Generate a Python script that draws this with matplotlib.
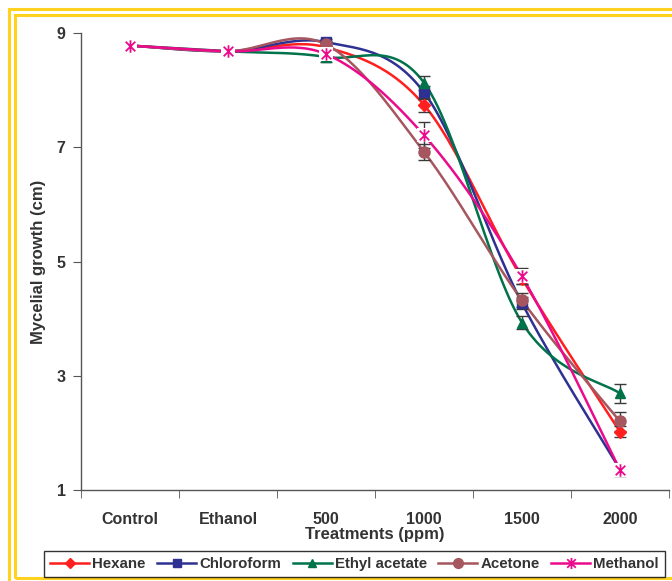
import numpy as np
import matplotlib.pyplot as plt
from matplotlib.path import Path
from matplotlib.patches import Rectangle
from matplotlib.lines import Line2D

plt.rcParams['font.family'] = ['Liberation Sans', 'DejaVu Sans']
plt.rcParams['font.weight'] = 'bold'

# datos
tratamientos = ["Control", "Ethanol", "500", "1000", "1500", "2000"]
hexane = [8.78, 8.68, 8.75, 7.74, 4.70, 2.02]
chloroform = [8.78, 8.68, 8.84, 7.96, 4.27, 1.36]
ethyl_acetate = [8.78, 8.68, 8.58, 8.13, 3.93, 2.69]
acetone = [8.78, 8.68, 8.80, 6.92, 4.32, 2.20]
methanol = [8.78, 8.68, 8.63, 7.21, 4.74, 1.35]

err_hexane = [0, 0, 0.08, 0.12, 0.10, 0.10]
err_chloroform = [0, 0, 0.06, 0.12, 0.10, 0.08]
err_ethyl = [0, 0, 0.09, 0.12, 0.12, 0.17]
err_acetone = [0, 0, 0.06, 0.14, 0.12, 0.16]
err_methanol = [0, 0, 0.08, 0.23, 0.14, 0.10]

# marcador estrella tipo Excel (x + linea vertical)
estrella = Path([(-1, -1), (1, 1), (-1, 1), (1, -1), (0, -1.3), (0, 1.3)],
                [Path.MOVETO, Path.LINETO, Path.MOVETO, Path.LINETO, Path.MOVETO, Path.LINETO])

series = [
    ("Hexane", hexane, err_hexane, "#FF1F1F", "D", 6),
    ("Chloroform", chloroform, err_chloroform, "#2E3192", "s", 7),
    ("Ethyl acetate", ethyl_acetate, err_ethyl, "#00734A", "^", 7),
    ("Acetone", acetone, err_acetone, "#A5565E", "o", 8),
    ("Methanol", methanol, err_methanol, "#EC0A8C", estrella, 9),
]


def suavizar(x, y, n=30):
    # curva suavizada estilo Excel (bezier por tramos)
    x = np.asarray(x, float)
    y = np.asarray(y, float)
    px = np.concatenate([[x[0]], x, [x[-1]]])
    py = np.concatenate([[y[0]], y, [y[-1]]])
    xs, ys = [], []
    t = np.linspace(0, 1, n)
    for i in range(1, len(px) - 2):
        p0 = np.array([px[i], py[i]])
        p3 = np.array([px[i + 1], py[i + 1]])
        p1 = p0 + (np.array([px[i + 1], py[i + 1]]) - np.array([px[i - 1], py[i - 1]])) / 6
        p2 = p3 - (np.array([px[i + 2], py[i + 2]]) - np.array([px[i], py[i]])) / 6
        b = ((1 - t) ** 3)[:, None] * p0 + (3 * (1 - t) ** 2 * t)[:, None] * p1 \
            + (3 * (1 - t) * t ** 2)[:, None] * p2 + (t ** 3)[:, None] * p3
        xs.extend(b[:, 0])
        ys.extend(b[:, 1])
    return np.array(xs), np.array(ys)


fig = plt.figure(figsize=(6.72, 5.81), dpi=100)
ax = fig.add_axes([81 / 672, 91 / 581, 588 / 672, 457 / 581])

x = np.arange(len(tratamientos))
handles = []
for nombre, vals, err, color, marker, ms in series:
    xs, ys = suavizar(x, vals)
    ax.plot(xs, ys, color=color, lw=1.8, zorder=2)
    ax.errorbar(x[2:], vals[2:], yerr=err[2:], fmt="none", ecolor="#3a3a3a",
                elinewidth=1, capsize=4, capthick=1, zorder=3)
    idx = x if nombre == "Methanol" else x[2:]
    vv = np.array(vals)[idx]
    if nombre == "Methanol":
        # la estrella de Excel lleva un fondo blanco cuadrado
        ax.plot(idx, vv, ls="none", marker="s", ms=9.5, mew=0, color="white", zorder=6)
        ax.plot(idx, vv, ls="none", marker=marker, ms=ms, mew=1.3, color=color, zorder=7)
    else:
        ax.plot(idx, vv, ls="none", marker=marker, ms=ms, color=color, mec=color, zorder=4)
    handles.append(Line2D([], [], color=color, lw=1.8, marker=marker, ms=ms - 1,
                          mew=1.3 if nombre == "Methanol" else 1, label=nombre))

ax.set_xlim(-0.5, 5.5)
ax.set_ylim(1, 9)
ax.set_yticks([1, 3, 5, 7, 9])
ax.set_xticks(x)
ax.set_xticklabels(tratamientos)
ax.set_xticks(np.arange(-0.5, 6, 1), minor=True)
ax.tick_params(axis="x", which="major", length=0, pad=16, labelsize=11.5, colors="#333333")
ax.tick_params(axis="x", which="minor", length=6, color="#555555", direction="out")
ax.tick_params(axis="y", length=6, color="#555555", labelsize=11.5, labelcolor="#333333", pad=5)
for lado in ["top", "right"]:
    ax.spines[lado].set_visible(False)
for lado in ["left", "bottom"]:
    ax.spines[lado].set_color("#555555")
    ax.spines[lado].set_linewidth(1)

ax.set_xlabel("Treatments (ppm)", fontsize=12, fontweight="bold", color="#333333", labelpad=0)
ax.set_ylabel("Mycelial growth (cm)", fontsize=12, fontweight="bold", color="#333333", labelpad=8)

leg = fig.legend(handles=handles, loc="lower left", ncol=5, mode="expand",
                 bbox_to_anchor=(44 / 672, 4 / 581, 621 / 672, 32 / 581),
                 fontsize=10.8, handlelength=2.6, handletextpad=0.2, columnspacing=0.5,
                 borderaxespad=0, fancybox=False, edgecolor="black", borderpad=0.4)
leg.get_frame().set_linewidth(1)
for t in leg.get_texts():
    t.set_color("#333333")

# marco doble amarillo
fig.patches.append(Rectangle((9 / 672, -0.05), 1.1, (581 - 9) / 581 + 0.05, transform=fig.transFigure,
                             fill=False, edgecolor="#FFD21F", lw=2.2, zorder=0))
fig.patches.append(Rectangle((15 / 672, 3 / 581), 1.1, (581 - 15 - 3) / 581, transform=fig.transFigure,
                             fill=False, edgecolor="#FFD21F", lw=2.2, zorder=0))

plt.savefig("out.png", dpi=100)
